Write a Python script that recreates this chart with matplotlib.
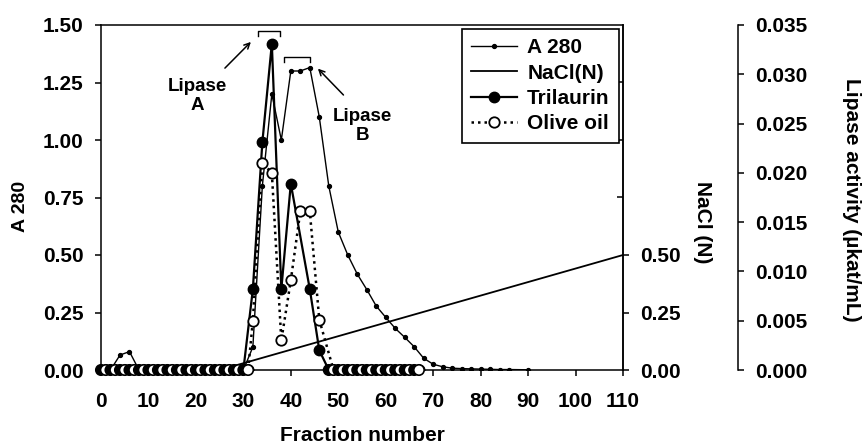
import matplotlib.pyplot as plt
import numpy as np
from matplotlib.ticker import FormatStrFormatter

plt.rcParams['font.family'] = ['Liberation Sans', 'DejaVu Sans']
plt.rcParams['font.weight'] = 'bold'

# A 280 (every second fraction)
a280_frac = [0, 2, 4, 6, 8, 10, 12, 14, 16, 18, 20, 22, 24, 26, 28, 30,
             32, 34, 36, 38, 40, 42, 44, 46, 48, 50, 52, 54, 56, 58, 60,
             62, 64, 66, 68, 70, 72, 74, 76, 78, 80, 82, 84, 86, 90]
a280 = [0, 0, 0.065, 0.08, 0, 0, 0, 0, 0, 0, 0, 0, 0, 0, 0, 0,
        0.10, 0.80, 1.20, 1.00, 1.30, 1.30, 1.315, 1.10, 0.80, 0.60, 0.50,
        0.417, 0.35, 0.278, 0.229, 0.181, 0.142, 0.101, 0.051, 0.025, 0.014,
        0.008, 0.006, 0.005, 0.004, 0.003, 0.002, 0.002, 0.001]

# NaCl gradient (N)
nacl_frac = [0, 25, 110]
nacl = [0.0, 0.0, 0.5]

# lipase activity (ukat/mL)
tri_frac = [0, 2, 4, 6, 8, 10, 12, 14, 16, 18, 20, 22, 24, 26, 28, 30,
            32, 34, 36, 38, 40, 44, 46,
            48, 50, 52, 54, 56, 58, 60, 62, 64, 66]
trilaurin = [0] * 16 + [0.0082, 0.0231, 0.0331, 0.0082, 0.0189, 0.0082, 0.0020] + [0] * 10

olive_frac = [1, 3, 5, 7, 9, 11, 13, 15, 17, 19, 21, 23, 25, 27, 29, 31,
              32, 34, 36, 38, 40, 42, 44, 46,
              49, 51, 53, 55, 57, 59, 61, 63, 65, 67]
olive = [0] * 16 + [0.0050, 0.0210, 0.0200, 0.0030, 0.0091, 0.0161, 0.0161, 0.0051] + [0] * 10

fs = 15
ms = 7.5

fig = plt.figure(figsize=(8.63, 4.45), dpi=100)
ax = fig.add_axes([101 / 863, 1 - 370 / 445, 522 / 863, 345 / 445])
ax2 = ax.twinx()
ax3 = ax.twinx()

l1, = ax.plot(a280_frac, a280, '-', color='black', lw=1.0, marker='o', ms=2.8,
              label='A 280')
l2, = ax2.plot(nacl_frac, nacl, '-', color='black', lw=1.3, label='NaCl(N)')
l3, = ax3.plot(tri_frac, trilaurin, '-', color='black', lw=1.6, marker='o',
               ms=ms, mfc='black', mec='black', label='Trilaurin', zorder=3)
l4, = ax3.plot(olive_frac, olive, color='black', lw=1.8, ls=(0, (1, 1.6)),
               marker='o', ms=ms, mfc='white', mec='black', mew=1.3,
               label='Olive oil', zorder=4)

# zero-activity fractions: draw filled/open pairs one after another
tri_zero = [f for f, v in zip(tri_frac, trilaurin) if v == 0]
olive_zero = [f for f, v in zip(olive_frac, olive) if v == 0]
zx, zc = [], []
for a, b in zip(tri_zero, olive_zero):
    zx += [a, b]
    zc += ['black', 'white']
ax3.scatter(zx, np.zeros(len(zx)), s=ms ** 2, c=zc, edgecolors='black',
            linewidths=1.2, zorder=5, clip_on=False)

ax.set_xlim(0, 110)
ax.set_ylim(0, 1.5)
ax.set_xticks(np.arange(0, 111, 10))
ax.set_yticks(np.arange(0, 1.51, 0.25))
ax.yaxis.set_major_formatter(FormatStrFormatter('%.2f'))
ax.tick_params(axis='both', labelsize=fs, width=1.1, length=4.5, direction='out')
ax.tick_params(axis='x', pad=11)
ax.tick_params(axis='y', pad=8)
for s in ax.spines.values():
    s.set_linewidth(1.1)

ax2.set_ylim(0, 1.5)
ax2.set_yticks([0, 0.25, 0.5])
ax2.set_yticks([0.75, 1.0, 1.25], minor=True)
ax2.yaxis.set_major_formatter(FormatStrFormatter('%.2f'))
ax2.tick_params(axis='y', which='major', labelsize=fs, width=1.1, length=4.5, pad=8)
ax2.tick_params(axis='y', which='minor', direction='in', width=1.1, length=4.5)
for k in ['top', 'bottom', 'left']:
    ax2.spines[k].set_visible(False)
ax2.spines['right'].set_linewidth(1.1)

ax3.set_ylim(0, 0.035)
ax3.set_yticks(np.arange(0, 0.0351, 0.005))
ax3.yaxis.set_major_formatter(FormatStrFormatter('%.3f'))
ax3.spines['right'].set_position(('outward', 115 * 0.72))
for k in ['top', 'bottom', 'left']:
    ax3.spines[k].set_visible(False)
ax3.spines['right'].set_linewidth(1.1)
ax3.tick_params(axis='y', labelsize=fs, width=1.1, length=4.5, pad=8)

ax.set_xlabel('Fraction number', fontsize=fs, fontweight='bold')
ax.xaxis.set_label_coords(0.5, -0.163)
ax.set_ylabel('A 280', fontsize=14, fontweight='bold', va='center')
ax.yaxis.set_label_coords(-0.155, 0.475)
ax2.set_ylabel('NaCl (N)', fontsize=fs, fontweight='bold', rotation=270, va='center')
ax2.yaxis.set_label_coords(1.153, 0.429)
ax3.set_ylabel('Lipase activity (µkat/mL)', fontsize=fs, fontweight='bold',
               rotation=270, va='center')
ax3.yaxis.set_label_coords(1.437, 0.493)

# peak labels, arrows and brackets
ax.text(20.3, 1.19, 'Lipase\nA', ha='center', va='center', fontsize=13.5,
        fontweight='bold', linespacing=1.15)
ax.text(55, 1.06, 'Lipase\nB', ha='center', va='center', fontsize=13.5,
        fontweight='bold', linespacing=1.15)
ax.annotate('', xy=(32.0, 1.435), xytext=(25.7, 1.304),
            arrowprops=dict(arrowstyle='->', lw=1.1, color='black'))
ax.annotate('', xy=(45.3, 1.319), xytext=(51.5, 1.187),
            arrowprops=dict(arrowstyle='->', lw=1.1, color='black'))
ax.plot([33, 33, 37.8, 37.8], [1.452, 1.474, 1.474, 1.452], color='black', lw=1.0)
ax.plot([38.5, 38.5, 44, 44], [1.34, 1.362, 1.362, 1.34], color='black', lw=1.0)

leg = ax3.legend(handles=[l1, l2, l3, l4], loc='upper right',
                 bbox_to_anchor=(619 / 863, 1 - 29 / 445),
                 bbox_transform=fig.transFigure, fontsize=fs, frameon=True,
                 fancybox=False, framealpha=1, edgecolor='black',
                 handlelength=2.2, labelspacing=0.3, borderpad=0.45,
                 handletextpad=0.5, borderaxespad=0)
leg.get_frame().set_linewidth(1.2)
leg.set_zorder(10)

fig.savefig('out.png', dpi=100)
